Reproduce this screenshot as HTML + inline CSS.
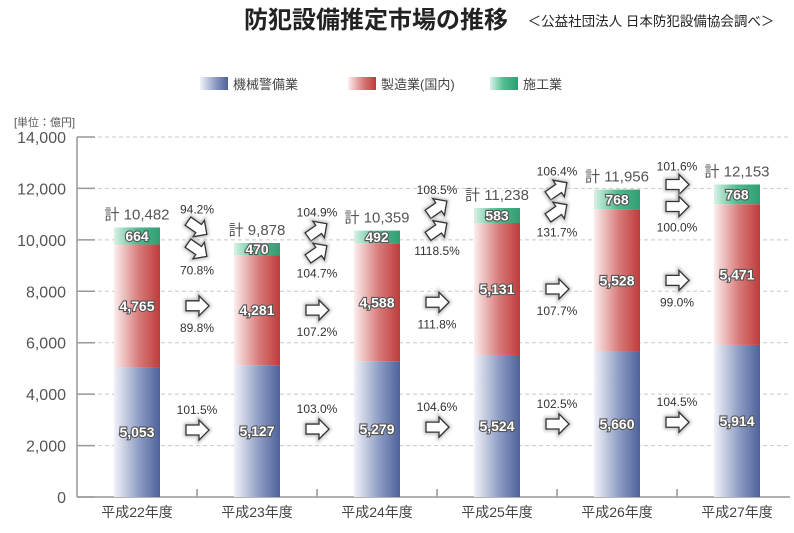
<!DOCTYPE html>
<html><head><meta charset="utf-8">
<style>
body{margin:0;background:#fff;}
svg{display:block;font-family:"Liberation Sans","Noto Sans CJK JP",sans-serif;}
</style></head>
<body>
<svg id="chart" width="794" height="533" viewBox="0 0 794 533">
<defs>
<linearGradient id="gBlue" x1="0" x2="1"><stop offset="0" stop-color="#f2f3f8"/><stop offset="0.55" stop-color="#8d9cc4"/><stop offset="1" stop-color="#4d629a"/></linearGradient>
<linearGradient id="gRed" x1="0" x2="1"><stop offset="0" stop-color="#fbeeee"/><stop offset="0.55" stop-color="#d77978"/><stop offset="1" stop-color="#bd3c3b"/></linearGradient>
<linearGradient id="gGreen" x1="0" x2="1"><stop offset="0" stop-color="#d8f2e6"/><stop offset="0.5" stop-color="#4fbb8e"/><stop offset="1" stop-color="#2f9e72"/></linearGradient>
<filter id="glow" x="-50%" y="-50%" width="200%" height="200%"><feGaussianBlur stdDeviation="1.6"/></filter>
</defs>
<text x="376" y="28" font-size="24" font-weight="bold" fill="#222" text-anchor="middle">防犯設備推定市場の推移</text>
<text x="651" y="26" font-size="13.5" fill="#222" text-anchor="middle">＜公益社団法人 日本防犯設備協会調べ＞</text>
<g>
<rect x="200" y="77" width="28" height="13" fill="url(#gBlue)"/>
<text x="233" y="89" font-size="13" fill="#444">機械警備業</text>
<rect x="348" y="77" width="28" height="13" fill="url(#gRed)"/>
<text x="381" y="89" font-size="13" fill="#444">製造業(国内)</text>
<rect x="490" y="77" width="28" height="13" fill="url(#gGreen)"/>
<text x="523" y="89" font-size="13" fill="#444">施工業</text>
</g>
<text x="14" y="126" font-size="11" fill="#555">[単位：億円]</text>
<g id="plot"></g>
</svg>
<script>
const categories=["平成22年度","平成23年度","平成24年度","平成25年度","平成26年度","平成27年度"];
const blueVals=[5053,5127,5279,5524,5660,5914];
const redVals=[4765,4281,4588,5131,5528,5471];
const greenVals=[664,470,492,583,768,768];
const totals=[10482,9878,10359,11238,11956,12153];
const growthTotal=["94.2%","104.9%","108.5%","106.4%","101.6%"];
const growthGreen=["70.8%","104.7%","1118.5%","131.7%","100.0%"];
const growthRed=["89.8%","107.2%","111.8%","107.7%","99.0%"];
const growthBlue=["101.5%","103.0%","104.6%","102.5%","104.5%"];
const yTicks=[0,2000,4000,6000,8000,10000,12000,14000];

const NS="http://www.w3.org/2000/svg";
const plot=document.getElementById('plot');
const y0=497,yTop=137,yMax=14000;
const y=v=>y0-(v/yMax)*(y0-yTop);
const x=i=>137+i*120;
const bw=46;
function mk(tag,attrs,parent){const e=document.createElementNS(NS,tag);for(const k in attrs)e.setAttribute(k,attrs[k]);(parent||plot).appendChild(e);return e;}
function fmt(n){return n.toLocaleString('en-US');}

yTicks.forEach(t=>{
  if(t>0){const g=mk('line',{x1:77,x2:790,y1:y(t),y2:y(t),stroke:'#c8c8c8','stroke-dasharray':'4,3'});
  
  }
  const tk=mk('line',{x1:77,x2:95,y1:y(t),y2:y(t),stroke:'#999','stroke-width':1.5});
  
  
  const lb=mk('text',{x:66,y:y(t)+6,'font-size':16,fill:'#555','text-anchor':'end'});
  lb.textContent=fmt(t);
  
  
});
const ax=mk('line',{x1:77,x2:77,y1:y(yMax),y2:y0,stroke:'#999','stroke-width':1.5});


const xa=mk('line',{x1:77,x2:790,y1:y0,y2:y0,stroke:'#999','stroke-width':1.5});



function segLabel(cx,cy,txt){
  const t=mk('text',{x:cx,y:cy+5,'font-size':14,'font-weight':'bold',fill:'#fff','text-anchor':'middle',stroke:'#555','stroke-width':2.2,'paint-order':'stroke'});
  t.textContent=txt;
  
  
}

categories.forEach((c,i)=>{
  const cx=x(i),l=cx-bw/2;
  const b=blueVals[i],r=redVals[i],g=greenVals[i];
  const rb=mk('rect',{x:l,y:y(b),width:bw,height:y0-y(b),fill:'url(#gBlue)'});
  
  
  const rr=mk('rect',{x:l,y:y(b+r),width:bw,height:y(b)-y(b+r),fill:'url(#gRed)'});
  
  
  const rg=mk('rect',{x:l,y:y(b+r+g),width:bw,height:y(b+r)-y(b+r+g),fill:'url(#gGreen)'});
  
  
  segLabel(cx,y(b/2),fmt(b));
  segLabel(cx,y(b+r/2),fmt(r));
  segLabel(cx,y(b+r+g/2),fmt(g));
  const tt=mk('text',{x:cx,y:y(b+r+g)-8,'font-size':15,fill:'#555','text-anchor':'middle'});
  tt.textContent='計 '+fmt(totals[i]);
  
  
  const cl=mk('text',{x:cx,y:517,'font-size':14,fill:'#444','text-anchor':'middle'});
  cl.textContent=c;
  
  
  if(i<categories.length-1){
    const xt=mk('line',{x1:cx+60,x2:cx+60,y1:y0-8,y2:y0,stroke:'#999','stroke-width':1.5});
    
    
  }
});

function arrow(cx,cy,rot){
  const g=mk('g',{transform:`translate(${cx},${cy}) rotate(${rot})`});
  
  
  const pts="-11,-5 2,-5 2,-10 12,0 2,10 2,5 -11,5";
  mk('polygon',{points:pts,fill:'none',stroke:'#bbb','stroke-width':4,filter:'url(#glow)'},g);
  mk('polygon',{points:pts,fill:'#fff',stroke:'#333','stroke-width':1.3},g);
}
function pct(cx,cy,txt){
  const t=mk('text',{x:cx,y:cy+4,'font-size':12,fill:'#333','text-anchor':'middle'});
  t.textContent=txt;
  
  
}
function rotFor(s){const v=parseFloat(s);return v>103?-35:(v<97?35:0);}
for(let i=0;i<categories.length-1;i++){
  const gx=x(i)+60;
  const topY=y(Math.max(totals[i],totals[i+1]));
  pct(gx,topY-18,growthTotal[i]);
  arrow(gx,topY,rotFor(growthTotal[i]));
  arrow(gx,topY+22,rotFor(growthGreen[i]));
  pct(gx,topY+43,growthGreen[i]);
  const midY=y(blueVals[i]+redVals[i]/2);
  arrow(gx,midY,0);
  pct(gx,midY+22,growthRed[i]);
  const botY=y(blueVals[i]/2)-2;
  pct(gx,botY-20,growthBlue[i]);
  arrow(gx,botY,0);
}
</script>
</body></html>
